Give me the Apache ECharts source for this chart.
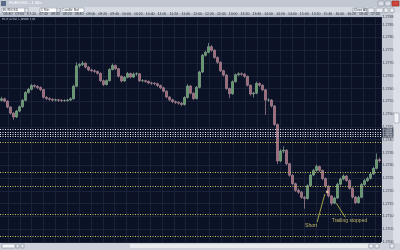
<!DOCTYPE html>
<html><head><meta charset="utf-8">
<script src="https://cdn.jsdelivr.net/npm/echarts@6/dist/echarts.min.js"></script>
<style>html,body{margin:0;padding:0;background:#0b1226}#c{width:400px;height:250px}</style>
</head><body><div id="c"></div>
<script>
// prices stored in pips above base 1.2700
const BASE = 1.27;
const opens = [55.4,56.0,55.1,52.8,50.4,48.9,51.2,52.9,55.4,58.5,59.7,61.2,60.9,60.4,59.6,56.6,56.1,55.8,55.5,55.6,55.4,55.3,55.3,55.5,56.0,60.9,68.9,69.4,69.9,68.4,67.3,67.0,66.7,66.0,63.1,61.6,63.1,67.5,69.0,67.8,64.8,63.0,64.4,65.9,64.5,65.7,65.8,63.1,63.1,62.8,62.2,62.1,61.9,61.2,60.3,59.0,56.7,55.6,54.9,54.6,54.3,53.8,56.5,61.0,58.2,56.1,60.5,66.5,73.0,74.2,76.4,75.0,72.2,70.3,67.0,65.3,60.0,58.0,62.7,65.4,65.8,65.6,64.8,61.3,57.9,58.2,62.0,61.3,59.5,55.5,55.5,53.2,46.0,31.7,35.6,35.9,30.6,26.1,22.8,20.2,19.5,17.5,17.0,22.0,26.2,28.0,29.5,28.0,24.8,21.8,18.0,15.2,17.2,22.6,24.6,25.8,24.1,21.0,17.6,15.4,17.5,22.5,24.0,24.9,26.6,28.8,32.2];
const closes = [56.0,55.1,52.8,50.4,48.9,51.2,52.9,55.4,58.5,59.7,61.2,60.9,60.4,59.6,56.6,56.1,55.8,55.5,55.6,55.4,55.3,55.3,55.5,56.0,60.9,68.9,69.4,69.9,68.4,67.3,67.0,66.7,66.0,63.1,61.6,63.1,67.5,69.0,67.8,64.8,63.0,64.4,65.9,64.5,65.7,65.8,63.1,63.1,62.8,62.2,62.1,61.9,61.2,60.3,59.0,56.7,55.6,54.9,54.6,54.3,53.8,56.5,61.0,58.2,56.1,60.5,66.5,73.0,74.2,76.4,75.0,72.2,70.3,67.0,65.3,60.0,58.0,62.7,65.4,65.8,65.6,64.8,61.3,57.9,58.2,62.0,61.3,59.5,55.5,55.5,53.2,46.0,31.7,35.6,35.9,30.6,26.1,22.8,20.2,19.5,17.5,17.0,22.0,26.2,28.0,29.5,28.0,24.8,21.8,18.0,15.2,17.2,22.6,24.6,25.8,24.1,21.0,17.6,15.4,17.5,22.5,24.0,24.9,26.6,28.8,32.2,31.8];
const lows = [54.9,54.6,52.3,49.9,47.8,48.5,50.8,52.5,55.0,58.0,59.3,60.3,59.8,59.0,56.1,55.5,55.2,54.9,55.0,54.8,54.7,54.8,54.9,55.1,55.7,60.5,68.0,68.8,67.9,66.8,66.4,66.1,65.4,62.6,61.0,61.2,62.8,67.1,67.3,64.3,62.4,62.6,64.0,64.0,64.1,65.0,62.6,62.5,62.2,61.7,61.5,61.3,60.6,59.8,58.5,56.2,55.0,54.3,54.0,53.7,53.1,53.4,56.1,57.7,55.5,55.8,60.1,66.1,72.5,73.8,74.4,71.7,69.7,66.5,64.7,59.5,56.2,57.6,62.3,64.9,65.0,64.2,60.8,57.3,56.5,57.8,60.7,59.0,49.7,54.8,52.6,45.4,30.5,31.2,34.8,30.0,25.5,22.2,19.6,18.8,16.9,13.0,16.6,21.6,25.7,27.5,27.4,24.2,21.2,17.4,14.3,14.8,16.8,22.2,24.1,23.5,20.4,17.0,14.8,15.0,17.1,22.0,23.5,24.4,26.2,28.4,31.0];
const highs = [56.8,56.4,55.4,53.1,50.8,51.7,53.4,55.9,59.0,60.3,61.8,61.7,61.3,60.9,59.9,57.0,56.6,56.2,56.1,56.0,55.9,55.8,56.0,56.6,61.5,70.3,70.0,70.8,70.3,68.8,67.8,67.5,67.1,66.3,63.5,63.6,68.0,69.8,69.4,68.1,65.2,64.9,66.5,66.3,66.3,66.4,66.1,63.7,63.5,63.2,62.7,62.5,62.3,61.6,60.7,59.3,57.1,56.0,55.3,55.0,54.7,57.0,61.8,61.4,58.6,61.0,67.0,73.6,74.8,77.9,77.0,75.4,72.6,70.6,67.4,65.6,60.4,63.2,65.9,66.4,66.3,66.1,65.1,61.6,58.8,62.7,62.5,61.7,59.8,56.2,55.9,53.5,46.3,36.3,37.4,36.3,31.0,26.5,23.2,21.0,20.0,18.0,22.6,26.8,28.6,30.3,29.9,28.4,25.2,22.2,18.4,17.8,23.2,25.2,26.5,26.2,24.5,21.4,18.0,18.1,23.1,24.6,25.5,27.2,29.4,34.6,33.0];
const timeLabels = ['06:40','07:00','07:20','07:40','08:00','08:20','08:40','09:00','09:20','09:40','10:00','10:20','10:40','11:00','11:20','11:40','12:00','12:20','12:40','13:00','13:20','13:40','14:00','14:20','14:40','15:00','15:20','15:40','16:00','16:20','16:40','17:00'];
const whiteLevels = [44.1, 43.1, 42.2, 41.4];
const yellowLevels = [39.2, 27.4, 22.0, 11.0, 2.1];
const shortLine = [[105.2, 7.8], [107.8, 18.8]];
const trailLine = [[114.6, 9.6], [111.6, 15.2]];
const shortEntry = [108.6, 19.6];
const shortText = [103.2, 6.6];
const trailText = [116.0, 8.4];

const categories = closes.map((_, i) => i);
const candles = closes.map((c, i) => [opens[i], c, lows[i], highs[i]]);

const chart = echarts.init(document.getElementById('c'), null, {renderer: 'canvas'});
const grey = '#3a4150';
const T = (x, y, text, o) => ({type: 'text', left: x, top: y, style: Object.assign({text, fontSize: 4, fill: grey, fontFamily: 'Liberation Sans'}, o || {}), z: -4});
const R = (x, y, w, h, fill, stroke) => ({type: 'rect', shape: {x, y, width: w, height: h}, style: {fill, stroke: stroke || null, lineWidth: stroke ? 0.6 : 0}, z: -5});

const graphic = [
  R(0, 0, 400, 7, '#c2c8d2'),
  R(1, 1, 5, 5, '#5a6a88'),
  T(9, 1.2, 'EUR/USD - 1 Min', {fontSize: 4.2, fill: '#ffffff'}),
  R(378, 1, 6, 5, '#d8dce4', '#8890a0'),
  R(385, 1, 6, 5, '#d8dce4', '#8890a0'),
  R(392, 1, 7, 5, '#d0463c', '#8a2a20'),
  R(0, 7, 400, 6, '#d6dae2'),
  R(2, 8, 23, 4.5, '#ffffff', '#8890a0'), R(25, 8, 3, 4.5, '#e4e7ec', '#8890a0'),
  T(3, 8.4, 'EUR/USD', {fontSize: 3.4}),
  R(40, 8, 17, 4.5, '#ffffff', '#8890a0'), R(57, 8, 3, 4.5, '#e4e7ec', '#8890a0'),
  T(41, 8.4, '1 Min', {fontSize: 3.4}),
  R(61, 8, 23, 4.5, '#ffffff', '#8890a0'),
  T(62, 8.4, 'Candle Bid', {fontSize: 3.4}),
  R(353, 8, 14, 4.5, '#eceef2', '#8890a0'), T(354, 8.4, 'Close All', {fontSize: 3.2}),
  R(368, 8, 6, 4.5, '#eceef2', '#8890a0'),
  R(376, 8, 7, 4.5, '#eceef2', '#8890a0'),
  R(384, 8, 4, 4.5, '#eceef2', '#8890a0'),
  R(390, 8, 4, 4.5, '#eceef2', '#8890a0'),
  R(0, 13, 381, 4, '#b9c0cb'),
  R(381, 13, 12, 230, '#c6cbd4'),
  R(393, 13, 7, 230, '#dcdfe5'),
  R(394, 113, 5, 10, '#f2f3f6', '#9098a8'),
  R(0, 243, 400, 7, '#cdd1d9'),
  R(2, 244, 13, 4, '#f4f5f7', '#8890a0'),
  R(16, 244, 3, 4, '#e4e7ec', '#8890a0'),
  R(21, 244, 3, 4, '#e4e7ec', '#8890a0'),
  R(130, 244, 238, 4, '#e8eaee'),
  R(369, 244, 4, 4, '#eceef2', '#8890a0'),
  R(375, 244, 4, 4, '#eceef2', '#8890a0'),
  R(390, 244, 4, 4, '#eceef2', '#8890a0'),
  T(2, 18, 'EUR/USD Candle Bid', {fontSize: 3.4, fill: '#b8c2d6'})
];

const dotted = (vals, color, withLabel) => vals.map(v => ({yAxis: v, lineStyle: {color, type: [1, 1.5], width: 1},
  label: withLabel ? {show: true, position: 'end', distance: 1, fontSize: 2.6, color: '#e8eaf0', backgroundColor: '#4a5262', padding: [0, 1],
    formatter: () => (BASE + v / 10000).toFixed(5)} : {show: false}}));

chart.setOption({
  animation: false,
  backgroundColor: '#0b1226',
  textStyle: {fontFamily: 'Liberation Sans'},
  grid: [
    {left: 0, right: 19, top: 17, bottom: 8},
    {left: 8, right: 19, top: 17, bottom: 8}
  ],
  xAxis: [
    {type: 'category', data: categories, gridIndex: 0, boundaryGap: true,
     axisLine: {show: false}, axisTick: {show: false}, axisLabel: {show: false}, splitLine: {show: false}},
    {type: 'value', gridIndex: 1, position: 'top', min: 0, max: 31.48, interval: 1,
     axisLine: {show: false}, axisTick: {show: false},
     axisLabel: {show: true, fontSize: 3.5, color: '#2e3444', margin: 1, formatter: v => timeLabels[v] || ''},
     splitLine: {show: true, lineStyle: {color: '#1a2239', width: 1}}},
    {type: 'value', gridIndex: 0, min: -0.5, max: 126.5, show: false}
  ],
  yAxis: [
    {type: 'value', gridIndex: 0, position: 'right', min: 0, max: 88, interval: 5,
     axisLine: {show: false}, axisTick: {show: false},
     axisLabel: {fontSize: 3.6, color: '#3a4050', margin: 1.5, formatter: v => (BASE + v / 10000).toFixed(4)},
     splitLine: {show: true, lineStyle: {color: '#1a2239', width: 1}}},
    {type: 'value', gridIndex: 1, min: 0, max: 88, show: false}
  ],
  graphic,
  series: [
    {type: 'candlestick', xAxisIndex: 0, yAxisIndex: 0, data: candles, barWidth: 1.6,
     itemStyle: {color: '#5f9c66', color0: '#a4687a', borderColor: '#8aa894', borderColor0: '#a98a96', borderWidth: 0.7},
     markLine: {silent: true, symbol: 'none', animation: false,
       data: dotted(whiteLevels, '#e6e8ee', true).concat(dotted(yellowLevels, '#c8c060', false))}},
    {type: 'line', xAxisIndex: 2, yAxisIndex: 0, data: shortLine, symbol: 'none', lineStyle: {color: '#c8c850', width: 0.8}, z: 5},
    {type: 'line', xAxisIndex: 2, yAxisIndex: 0, data: trailLine, symbol: 'none', lineStyle: {color: '#c8c850', width: 0.8}, z: 5},
    {type: 'scatter', xAxisIndex: 2, yAxisIndex: 0, data: [shortEntry], symbol: 'rect', symbolSize: 2.5, itemStyle: {color: '#f2d2a8'}, z: 6},
    {type: 'scatter', xAxisIndex: 2, yAxisIndex: 0, symbolSize: 0, z: 6,
     data: [{value: shortText, name: 'Short'}, {value: trailText, name: 'Trailing stopped'}],
     label: {show: true, position: 'inside', formatter: p => p.name, color: '#e6dc78', fontSize: 5, fontFamily: 'Liberation Sans'}}
  ]
});
</script></body></html>
